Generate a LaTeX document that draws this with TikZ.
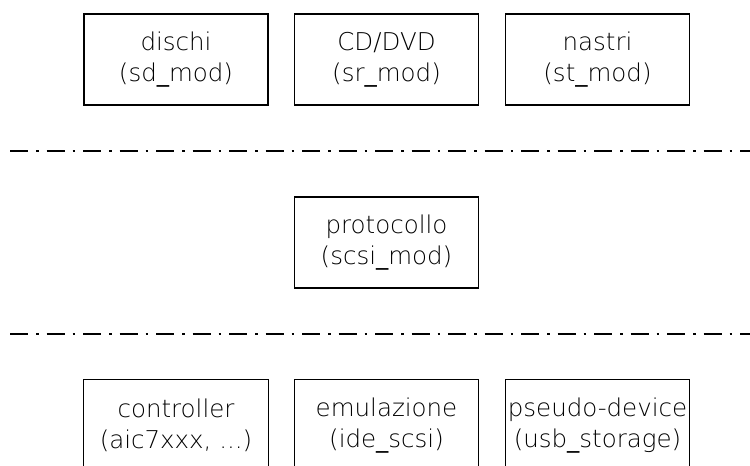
\documentclass[tikz,border=0pt]{standalone}
\usepackage{fontspec}
\setmainfont{DejaVu Sans ExtraLight}
\newfontfamily\regfont{DejaVu Sans}
\newcommand{\us}{{\regfont\_}}
\begin{document}
\begin{tikzpicture}[x=1pt,y=-1pt,
  box/.style={draw, line width=1.3pt, minimum width=184pt, minimum height=91pt, inner sep=0pt, align=center,
    font=\fontsize{24.5}{31}\selectfont},
  openbox/.style={minimum width=184pt, minimum height=91pt, inner sep=0pt, align=center,
    font=\fontsize{24.5}{31}\selectfont},
  sep/.style={line width=1.8pt, dash pattern=on 18pt off 8pt on 2.5pt off 8pt}]
\useasboundingbox (0,0) rectangle (750,466);
\node[box] (dischi) at (176,59.5) {dischi\\(sd\us mod)};
\node[box] (cd) at (386.5,59.5) {CD/DVD\\(sr\us mod)};
\node[box] (nastri) at (597.5,59.5) {nastri\\(st\us mod)};
\coordinate (l1a) at (10,151);
\coordinate (l1b) at (760,151);
\draw[sep] (l1a) -- (l1b);
\node[box] (proto) at (386.5,242.5) {protocollo\\(scsi\us mod)};
\coordinate (l2a) at (10,334);
\coordinate (l2b) at (760,334);
\draw[sep] (l2a) -- (l2b);
\node[openbox] (ctrl) at (176,425.5) {controller\\(aic7xxx, ...)};
\node[openbox] (emu) at (386.5,425.5) {emulazione\\(ide\us scsi)};
\node[openbox] (pseudo) at (597.5,425.5) {pseudo-device\\(usb\us storage)};
\foreach \n in {ctrl,emu,pseudo}
  \draw[line width=1.3pt] (\n.south west) -- (\n.north west) -- (\n.north east) -- (\n.south east);
\end{tikzpicture}
\end{document}
